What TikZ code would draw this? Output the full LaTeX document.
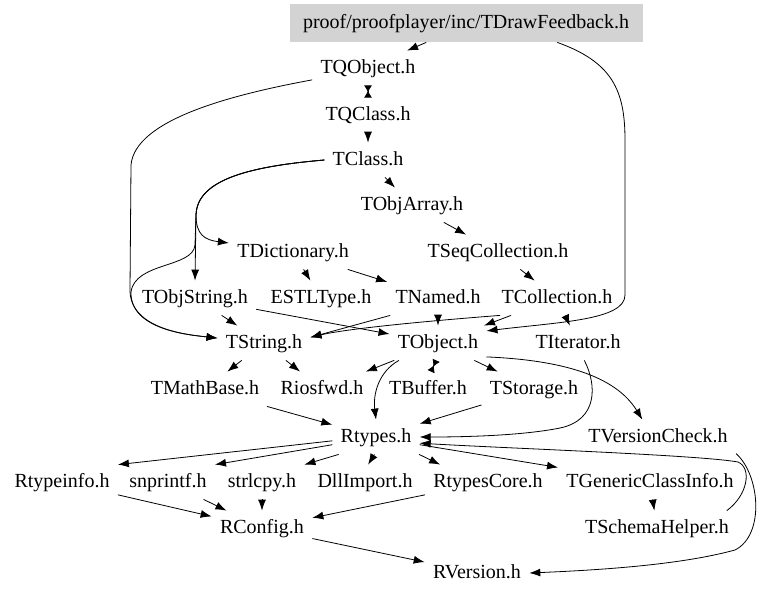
\documentclass[tikz,border=0pt]{standalone}
\usepackage{fontspec}
\setmainfont{Liberation Serif}
\usetikzlibrary{arrows.meta}
\definecolor{rootgray}{HTML}{D3D3D3}
\begin{document}
\begin{tikzpicture}[x=1pt, y=-1pt, line width=0.8pt,
        hdr/.style={inner xsep=8pt, inner ysep=0pt, minimum height=34pt, text height=14pt, text depth=4pt, font=\fontsize{20}{24}\selectfont},
        mainhdr/.style={hdr, fill=rootgray, minimum width=353pt, minimum height=38pt},
        dep/.style={-{Latex[length=11pt, width=8pt]}},
        hourglass/.style={{Latex[reversed, length=7pt, width=8pt]}-{Latex[reversed, length=7pt, width=8pt]}}]
        \useasboundingbox (0, 0) rectangle (768, 598);
        \node[mainhdr] (feedback) at (466, 23) {proof/proofplayer/inc/TDrawFeedback.h};
        \node[hdr] (tqobject) at (368, 68) {TQObject.h};
        \node[hdr] (tqclass) at (368, 115) {TQClass.h};
        \node[hdr] (tclass) at (368, 160) {TClass.h};
        \node[hdr] (tobjarray) at (412, 205) {TObjArray.h};
        \node[hdr] (tdictionary) at (293, 252) {TDictionary.h};
        \node[hdr] (tseqcollection) at (498, 252) {TSeqCollection.h};
        \node[hdr] (tobjstring) at (195, 298) {TObjString.h};
        \node[hdr] (estltype) at (321, 298) {ESTLType.h};
        \node[hdr] (tnamed) at (438, 298) {TNamed.h};
        \node[hdr] (tcollection) at (557, 298) {TCollection.h};
        \node[hdr] (tstring) at (264, 343) {TString.h};
        \node[hdr] (tobject) at (438, 343) {TObject.h};
        \node[hdr] (titerator) at (578, 343) {TIterator.h};
        \node[hdr] (tmathbase) at (205, 389) {TMathBase.h};
        \node[hdr] (riosfwd) at (322, 389) {Riosfwd.h};
        \node[hdr] (tbuffer) at (428, 389) {TBuffer.h};
        \node[hdr] (tstorage) at (534, 389) {TStorage.h};
        \node[hdr] (rtypes) at (376, 437) {Rtypes.h};
        \node[hdr] (tversioncheck) at (658, 437) {TVersionCheck.h};
        \node[hdr] (rtypeinfo) at (62, 482) {Rtypeinfo.h};
        \node[hdr] (snprintf) at (168, 482) {snprintf.h};
        \node[hdr] (strlcpy) at (262, 482) {strlcpy.h};
        \node[hdr] (dllimport) at (365, 482) {DllImport.h};
        \node[hdr] (rtypescore) at (488, 482) {RtypesCore.h};
        \node[hdr] (tgenericclassinfo) at (650, 482) {TGenericClassInfo.h};
        \node[hdr] (rconfig) at (262, 528) {RConfig.h};
        \node[hdr] (tschemahelper) at (657, 528) {TSchemaHelper.h};
        \node[hdr] (rversion) at (477, 573) {RVersion.h};
        \draw[dep] (feedback.-154) -- (tqobject.24);
        \draw[dep] (feedback.-12) .. controls (612, 62) and (625, 90) .. (625, 140) -- (625, 295) .. controls (625, 320) and (560, 322) .. (tobject.14);
        \draw[hourglass] (tqobject.south) -- (tqclass.north);
        \draw[dep] (tqobject.-168) .. controls (230, 95) and (135, 120) .. (131, 165) -- (130, 290) .. controls (130, 330) and (190, 335) .. (tstring.174);
        \draw[dep] (tqclass) -- (tclass);
        \draw[dep] (tclass) -- (tobjarray);
        \draw[dep] (tclass.west) .. controls (255, 166) and (197, 178) .. (196, 215) .. controls (196, 235) and (205, 240) .. (tdictionary.172);
        \draw[dep] (tclass.west) .. controls (255, 166) and (197, 178) .. (196, 215) -- (tobjstring.north);
        \draw[dep] (tclass.west) .. controls (255, 166) and (197, 178) .. (196, 215) -- (195, 245) .. controls (193, 268) and (135, 262) .. (131, 292) .. controls (130, 330) and (190, 335) .. (tstring.174);
        \draw[dep] (tobjarray) -- (tseqcollection);
        \draw[dep] (tseqcollection) -- (tcollection);
        \draw[dep] (tdictionary) -- (estltype);
        \draw[dep] (tdictionary) -- (tnamed);
        \draw[dep] (tobjstring) -- (tstring);
        \draw[dep] (tobjstring) -- (tobject);
        \draw[dep] (tnamed.-160) -- (tstring.7);
        \draw[dep] (tnamed) -- (tobject);
        \draw[dep] (tcollection.-163) .. controls (440, 320) and (350, 328) .. (tstring.7);
        \draw[dep] (tcollection) -- (tobject);
        \draw[dep] (tcollection) -- (titerator);
        \draw[dep] (tstring) -- (tmathbase);
        \draw[dep] (tstring) -- (riosfwd);
        \draw[dep] (tobject) -- (riosfwd);
        \draw[dep] (tobject.-156) .. controls (378, 372) and (373, 395) .. (rtypes.north);
        \draw[hourglass] (tobject.-96) -- (tbuffer.80);
        \draw[dep] (tobject) -- (tstorage);
        \draw[dep] (tobject.-16) .. controls (560, 360) and (615, 375) .. (tversioncheck.132);
        \draw[dep] (titerator.-70) .. controls (597, 385) and (598, 420) .. (560, 428) .. controls (520, 436) and (460, 437) .. (rtypes.east);
        \draw[dep] (tmathbase) -- (rtypes);
        \draw[dep] (tstorage) -- (rtypes);
        \draw[dep] (rtypes.185) -- (rtypeinfo.north east);
        \draw[dep] (rtypes.-170) -- (snprintf.north east);
        \draw[dep] (rtypes.-155) -- (strlcpy.north east);
        \draw[dep] (rtypes.-95) -- (dllimport.80);
        \draw[dep] (rtypes.-22) -- (rtypescore.160);
        \draw[dep] (rtypes.-10) -- (tgenericclassinfo.171);
        \draw[dep] (tschemahelper.14) .. controls (748, 495) and (752, 468) .. (738, 462) .. controls (700, 455) and (500, 448) .. (rtypes.-8);
        \draw[dep] (tgenericclassinfo) -- (tschemahelper);
        \draw[dep] (tversioncheck.-12) .. controls (760, 475) and (765, 535) .. (735, 550) .. controls (680, 565) and (600, 570) .. (rversion.east);
        \draw[dep] (rtypeinfo) -- (rconfig);
        \draw[dep] (snprintf) -- (rconfig);
        \draw[dep] (strlcpy) -- (rconfig);
        \draw[dep] (rtypescore) -- (rconfig);
        \draw[dep] (rconfig) -- (rversion);
\end{tikzpicture}
\end{document}
